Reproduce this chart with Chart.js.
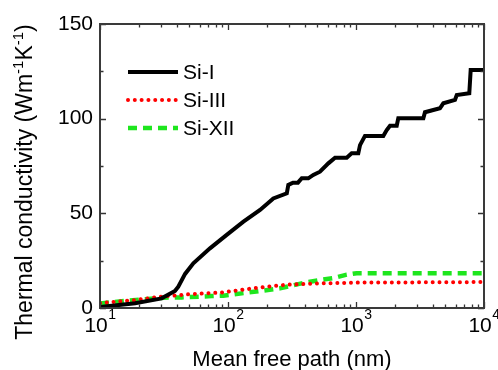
<!DOCTYPE html>
<html>
<head>
<meta charset="utf-8">
<script src="https://cdn.jsdelivr.net/npm/chart.js@4.4.0/dist/chart.umd.min.js"></script>
<style>
    html, body { margin: 0; padding: 0; background: #fff; }
</style>
</head>
<body>
<canvas id="myChart" width="498" height="370"></canvas>
<script>
// mean free path (nm) / thermal conductivity (W m-1 K-1)
const siIPath = [10, 18.8, 30.3, 38.5, 40.9, 46.2, 53.6, 72.3, 97.7, 132, 178, 226, 288, 296, 322, 352, 377, 424, 464, 523, 608, 686, 846, 925, 1042, 1075, 1175, 1634, 1738, 1844, 2080, 2140, 3359, 3459, 4529, 4809, 5933, 6125, 7674, 7870, 10000];
const siIKappa = [0.5, 2.5, 5.1, 9, 11.3, 18, 23.6, 31.5, 38.6, 45.6, 51.8, 57.9, 60.6, 65, 66.2, 66.2, 68.5, 68.5, 70.3, 72, 76.4, 79.4, 79.4, 81.7, 81.7, 86, 90.9, 90.9, 94, 96.3, 96.3, 100.2, 100.2, 103.4, 105.5, 108.1, 109.9, 112.5, 113.4, 125.7, 125.7];

const siIIIPath = [10, 18.8, 30.3, 48.7, 89.3, 158, 288, 523, 1012, 10000];
const siIIIKappa = [2.6, 4.2, 6.0, 7.2, 8.2, 10.4, 12.3, 13.0, 13.4, 13.7];

const siXIIPath = [10, 16.6, 26.9, 34, 43.5, 74.6, 91.8, 153, 255, 412, 523, 665, 846, 1012, 10000];
const siXIIKappa = [2.4, 3.9, 5.1, 5.5, 5.6, 6.3, 6.5, 8.4, 10.4, 13.6, 14.8, 15.8, 17.6, 18.4, 18.4];

const xTickValues = [10, 100, 1000, 10000];
const yTickValues = [0, 50, 100, 150];

const fontFamily = '"Liberation Sans", Arial, sans-serif';

function toPoints(xs, ys) {
    return xs.map((x, i) => ({ x: x, y: ys[i] }));
}

// frame, inward ticks, exponent labels, titles and the legend
const decorations = {
    id: 'decorations',
    afterDraw(chart) {
        const ctx = chart.ctx;
        const area = chart.chartArea;
        const xs = chart.scales.x;
        const ys = chart.scales.y;
        ctx.save();

        // ticks
        ctx.strokeStyle = '#333';
        ctx.lineWidth = 1.3;
        ctx.beginPath();
        for (let d = 10; d <= 10000; d *= 10) {
            for (let m = 1; m < 10; m++) {
                const v = d * m;
                if (v > 10000) break;
                const px = Math.round(xs.getPixelForValue(v)) + 0.5;
                const len = m === 1 ? 6 : 3.5;
                ctx.moveTo(px, area.bottom); ctx.lineTo(px, area.bottom - len);
                ctx.moveTo(px, area.top); ctx.lineTo(px, area.top + len);
            }
        }
        for (let v = 0; v <= 150; v += 25) {
            const py = Math.round(ys.getPixelForValue(v)) + 0.5;
            const len = v % 50 === 0 ? 6 : 3.5;
            ctx.moveTo(area.left, py); ctx.lineTo(area.left + len, py);
            ctx.moveTo(area.right, py); ctx.lineTo(area.right - len, py);
        }
        ctx.stroke();

        // frame
        ctx.strokeStyle = '#3a3a3a';
        ctx.lineWidth = 2;
        ctx.strokeRect(area.left, area.top, area.right - area.left, area.bottom - area.top);

        // x tick labels 10^n
        ctx.fillStyle = '#000';
        ctx.textBaseline = 'alphabetic';
        ctx.textAlign = 'left';
        xTickValues.forEach((v) => {
            const px = xs.getPixelForValue(v);
            const exp = String(Math.round(Math.log10(v)));
            ctx.font = '21px ' + fontFamily;
            const wBase = ctx.measureText('10').width;
            ctx.font = '14px ' + fontFamily;
            const wExp = ctx.measureText(exp).width;
            const x0 = px - (wBase + wExp) / 2;
            ctx.font = '21px ' + fontFamily;
            ctx.fillText('10', x0, 332);
            ctx.font = '14px ' + fontFamily;
            ctx.fillText(exp, x0 + wBase + 0.5, 319);
        });

        // x title
        ctx.font = '22px ' + fontFamily;
        ctx.textAlign = 'center';
        ctx.fillText('Mean free path (nm)', (area.left + area.right) / 2, 366);

        // y title with superscripts, rotated
        const parts = [
            ['Thermal conductivity (Wm', false],
            ['-1', true],
            ['K', false],
            ['-1', true],
            [')', false]
        ];
        let total = 0;
        parts.forEach((p) => {
            ctx.font = (p[1] ? '15px ' : '23px ') + fontFamily;
            total += ctx.measureText(p[0]).width;
        });
        ctx.translate(32, 182 + total / 2);
        ctx.rotate(-Math.PI / 2);
        ctx.textAlign = 'left';
        let cx = 0;
        parts.forEach((p) => {
            ctx.font = (p[1] ? '15px ' : '23px ') + fontFamily;
            ctx.fillText(p[0], cx, p[1] ? -9 : 0);
            cx += ctx.measureText(p[0]).width;
        });
        ctx.setTransform(1, 0, 0, 1, 0, 0);

        // legend
        const rows = [72, 100, 128];
        chart.data.datasets.forEach((ds, i) => {
            const y = rows[i];
            ctx.strokeStyle = ds.borderColor;
            ctx.lineWidth = ds.borderWidth;
            ctx.lineCap = ds.borderCapStyle || 'butt';
            ctx.setLineDash(ds.borderDash || []);
            ctx.beginPath();
            ctx.moveTo(128, y);
            ctx.lineTo(178, y);
            ctx.stroke();
            ctx.setLineDash([]);
            ctx.fillStyle = '#000';
            ctx.font = '21px ' + fontFamily;
            ctx.textAlign = 'left';
            ctx.textBaseline = 'middle';
            ctx.fillText(ds.label, 183, y + 1);
        });

        ctx.restore();
    }
};

const data = {
    datasets: [{
        label: 'Si-I',
        data: toPoints(siIPath, siIKappa),
        borderColor: '#000000',
        borderWidth: 4,
        borderCapStyle: 'butt',
        borderJoinStyle: 'miter'
    }, {
        label: 'Si-III',
        data: toPoints(siIIIPath, siIIIKappa),
        borderColor: '#ff0000',
        borderWidth: 4,
        borderDash: [0.01, 6.8],
        borderCapStyle: 'round'
    }, {
        label: 'Si-XII',
        data: toPoints(siXIIPath, siXIIKappa),
        borderColor: '#1ee61e',
        borderWidth: 4.5,
        borderDash: [9, 6],
        borderCapStyle: 'butt'
    }]
};

const config = {
    type: 'line',
    data,
    options: {
        responsive: false,
        animation: false,
        layout: { padding: { top: 24, right: 14, left: 0, bottom: 0 } },
        elements: { point: { radius: 0 }, line: { tension: 0 } },
        plugins: {
            legend: { display: false },
            tooltip: { enabled: false }
        },
        scales: {
            x: {
                type: 'logarithmic',
                min: 10,
                max: 10000,
                grid: { display: false },
                border: { display: false },
                ticks: { display: false },
                afterFit(scale) { scale.height = 62; }
            },
            y: {
                min: 0,
                max: 150,
                afterBuildTicks(scale) { scale.ticks = yTickValues.map((v) => ({ value: v })); },
                ticks: {
                    font: { size: 21, family: fontFamily },
                    color: '#000',
                    padding: 7
                },
                grid: { display: false, drawTicks: false },
                border: { display: false },
                afterFit(scale) { scale.width = 100; }
            }
        }
    },
    plugins: [decorations]
};

const myChart = new Chart(document.getElementById('myChart'), config);
</script>
</body>
</html>
